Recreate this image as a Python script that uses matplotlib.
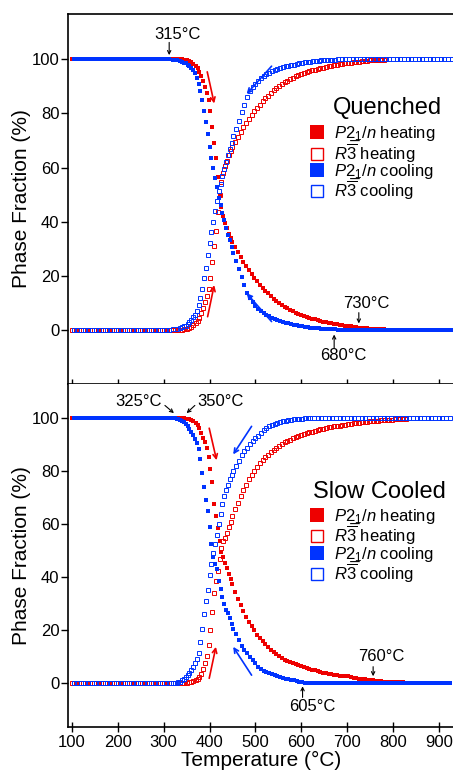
import matplotlib.pyplot as plt
from matplotlib.lines import Line2D

plt.rcParams['font.family'] = ['Liberation Sans', 'DejaVu Sans']
plt.rcParams['mathtext.fontset'] = 'custom'
plt.rcParams['mathtext.rm'] = 'Liberation Sans'
plt.rcParams['mathtext.it'] = 'Liberation Sans:italic'
plt.rcParams['mathtext.bf'] = 'Liberation Sans:bold'
plt.rcParams['mathtext.fallback'] = 'stixsans'

RED = '#ee0000'
BLUE = '#0033ff'

# ---------------- Quenched (top panel) ----------------
q_heat_T = [100, 108, 116, 124, 132, 140, 148, 156, 164, 172, 180, 188, 196, 204, 212, 220,
            228, 236, 244, 252, 260, 268, 276, 284, 292, 300, 308, 316, 324, 332, 340,
            345, 350, 355, 360, 365, 370, 374, 378, 382, 386, 390, 394, 398, 402, 406, 410,
            414, 418, 422, 426, 430, 434, 438, 442, 446, 450,
            456, 462, 468, 474, 480, 486, 492, 498, 504, 510, 516, 522, 528, 534, 540, 546,
            552, 558, 564, 570, 576, 582, 588, 594, 600, 606, 612, 618, 624, 630, 636, 642,
            648, 654, 660, 666, 672, 678, 684, 690, 696, 702, 708, 714, 720, 726, 732, 738,
            744, 750, 756, 762, 768, 774, 780]
q_heat_p21n = [100, 100, 100, 100, 100, 100, 100, 100, 100, 100, 100, 100, 100, 100, 100, 100,
               100, 100, 100, 100, 100, 100, 100, 100, 100, 100, 100, 100, 100, 100, 100,
               99.8, 99.6, 99.3, 99.0, 98.4, 97.6, 96.7, 95.5, 94.0, 92.0, 89.8, 87.5, 84.8, 81.0,
               75.0, 69.0, 63.5, 56.5, 50.0, 45.5, 42.0, 39.5, 37.5, 35.5, 34.0, 32.5,
               30.5, 28.6, 26.8, 25.0, 23.4, 22.0, 20.6, 19.2, 17.9, 16.7,
               15.5, 14.4, 13.4, 12.4, 11.5, 10.7, 9.9, 9.2, 8.5, 7.9,
               7.3, 6.8, 6.3, 5.9, 5.5, 5.1, 4.7, 4.4, 4.1, 3.8,
               3.5, 3.3, 3.0, 2.8, 2.6, 2.4, 2.2, 2.0, 1.8, 1.6,
               1.5, 1.3, 1.2, 1.0, 0.9, 0.8, 0.7, 0.6, 0.5, 0.4,
               0.3, 0.3, 0.2, 0.1, 0.1]
q_heat_r3 = [0, 0, 0, 0, 0, 0, 0, 0, 0, 0, 0, 0, 0, 0, 0, 0,
             0, 0, 0, 0, 0, 0, 0, 0, 0, 0, 0, 0, 0, 0, 0,
             0.2, 0.4, 0.7, 1.0, 1.6, 2.4, 3.3, 4.5, 6.0, 8.0, 10.2, 12.5, 15.2, 19.0,
             25.0, 31.0, 36.5, 43.5, 50.0, 54.5, 58.0, 60.5, 62.5, 64.5, 66.0, 67.5,
             69.5, 71.4, 73.2, 75.0, 76.6, 78.0, 79.4, 80.8, 82.1, 83.3,
             84.5, 85.6, 86.6, 87.6, 88.5, 89.3, 90.1, 90.8, 91.5, 92.1,
             92.7, 93.2, 93.7, 94.1, 94.5, 94.9, 95.3, 95.6, 95.9, 96.2,
             96.5, 96.7, 97.0, 97.2, 97.4, 97.6, 97.8, 98.0, 98.2, 98.4,
             98.5, 98.7, 98.8, 99.0, 99.1, 99.2, 99.3, 99.4, 99.5, 99.6,
             99.7, 99.7, 99.8, 99.9, 99.9]

q_cool_T = [104, 112, 120, 128, 136, 144, 152, 160, 168, 176, 184, 192, 200, 208, 216, 224,
            232, 240, 248, 256, 264, 272, 280, 288, 296, 304, 312, 320, 328, 336,
            340, 344, 348, 352, 356, 360, 364, 368, 372, 376, 380, 384, 388, 392, 396, 400,
            404, 408, 412, 416, 420, 424, 428, 432, 436, 440, 444, 448, 452,
            458, 464, 470, 476, 482, 488, 494, 500, 506, 512, 518, 524, 530, 536, 542, 548,
            554, 560, 566, 572, 578, 584, 590, 596, 602, 608, 614, 620, 626, 632, 638, 644,
            650, 656, 662, 668, 674, 680,
            688, 696, 704, 712, 720, 728, 736, 744, 752, 760, 768, 776, 784, 792, 800, 808,
            816, 824, 832, 840, 848, 856, 864, 872, 880, 888, 896, 904, 912, 920, 928]
q_cool_p21n = [100, 100, 100, 100, 100, 100, 100, 100, 100, 100, 100, 100, 100, 100, 100, 100,
               100, 100, 100, 100, 100, 100, 100, 100, 100, 100, 100, 99.9, 99.7, 99.3,
               99.0, 98.8, 98.5, 98.0, 97.5, 96.8, 96.0, 94.8, 93.2, 91.0, 88.3, 85.0, 81.0,
               77.0, 72.3, 67.5, 63.5, 59.7, 56.0, 52.7, 48.8, 46.0, 43.0, 40.5, 37.5, 35.2,
               33.0, 30.6, 28.3,
               25.5, 22.5, 19.4, 16.6, 13.6, 11.6, 10.1, 8.9, 7.8, 6.9,
               6.1, 5.4, 4.9, 4.4, 4.0, 3.6, 3.2, 2.9, 2.6, 2.3,
               2.1, 1.9, 1.7, 1.5, 1.3, 1.1, 1.0, 0.8, 0.7, 0.6,
               0.5, 0.4, 0.3, 0.3, 0.2, 0.1, 0.1, 0.0,
               0, 0, 0, 0, 0, 0, 0, 0, 0, 0, 0, 0, 0, 0, 0, 0,
               0, 0, 0, 0, 0, 0, 0, 0, 0, 0, 0, 0, 0, 0, 0]
q_cool_r3 = [0, 0, 0, 0, 0, 0, 0, 0, 0, 0, 0, 0, 0, 0, 0, 0,
             0, 0, 0, 0, 0, 0, 0, 0, 0, 0, 0, 0.1, 0.3, 0.7,
             1.0, 1.2, 1.5, 2.2, 2.8, 3.6, 4.6, 5.6, 7.0, 9.2, 11.9, 15.2, 19.2,
             23.0, 27.5, 32.0, 36.0, 40.0, 43.8, 47.5, 51.2, 54.0, 57.0, 59.5, 62.2, 64.6,
             66.9, 69.2, 71.6,
             74.3, 77.2, 80.4, 83.2, 86.0, 88.2, 89.8, 91.0, 92.1, 93.0,
             93.8, 94.5, 95.1, 95.6, 96.0, 96.4, 96.8, 97.1, 97.4, 97.7,
             97.9, 98.1, 98.3, 98.5, 98.7, 98.9, 99.0, 99.2, 99.3, 99.4,
             99.5, 99.6, 99.7, 99.7, 99.8, 99.9, 99.9, 100,
             100, 100, 100, 100, 100, 100, 100, 100, 100, 100, 100, 100, 100, 100, 100, 100,
             100, 100, 100, 100, 100, 100, 100, 100, 100, 100, 100, 100, 100, 100, 100]

# ---------------- Slow cooled (bottom panel) ----------------
s_heat_T = [100, 108, 116, 124, 132, 140, 148, 156, 164, 172, 180, 188, 196, 204, 212, 220,
            228, 236, 244, 252, 260, 268, 276, 284, 292, 300, 308, 316, 324, 332, 340,
            345, 350, 355, 360, 365, 370, 374, 378, 382, 386, 390, 394, 398, 402, 406, 410,
            414, 418, 422, 426, 430, 434, 438, 442, 446, 450,
            456, 462, 468, 474, 480, 486, 492, 498, 504, 510, 516, 522, 528, 534, 540, 546,
            552, 558, 564, 570, 576, 582, 588, 594, 600, 606, 612, 618, 624, 630, 636, 642,
            648, 654, 660, 666, 672, 678, 684, 690, 696, 702, 708, 714, 720, 726, 732, 738,
            744, 750, 756, 762, 768, 774, 780, 786, 792, 798, 804, 810, 816, 822, 828]
s_heat_p21n = [100, 100, 100, 100, 100, 100, 100, 100, 100, 100, 100, 100, 100, 100, 100, 100,
               100, 100, 100, 100, 100, 100, 100, 100, 100, 100, 100, 100, 100, 100, 100,
               100, 99.8, 99.6, 99.3, 98.9, 98.3, 97.6, 96.5, 94.6, 92.6, 91.0, 89.0, 85.5,
               81.0, 76.0, 67.5, 63.0, 58.5, 53.5, 49.5, 47.6, 45.2, 43.5, 41.2, 39.4, 37.5,
               34.6, 31.8, 29.4, 27.1, 25.1, 23.2, 21.5, 19.9, 18.3, 17.0,
               15.8, 14.6, 13.6, 12.6, 11.7, 11.0, 10.2, 9.5, 8.9, 8.4,
               7.9, 7.5, 7.1, 6.8, 6.4, 6.0, 5.6, 5.3, 5.0, 4.8,
               4.5, 4.2, 4.0, 3.7, 3.5, 3.3, 3.1, 3.0, 2.8, 2.7,
               2.6, 2.5, 2.3, 2.1, 1.9, 1.7, 1.6, 1.4, 1.3, 1.1,
               1.0, 0.9, 0.8, 0.7, 0.6, 0.5, 0.5, 0.4, 0.4, 0.3,
               0.3, 0.3, 0.2]
s_heat_r3 = [0, 0, 0, 0, 0, 0, 0, 0, 0, 0, 0, 0, 0, 0, 0, 0,
             0, 0, 0, 0, 0, 0, 0, 0, 0, 0, 0, 0, 0, 0, 0,
             0.1, 0.2, 0.4, 0.6, 0.8, 1.2, 1.7, 2.4, 3.4, 5.4, 7.6, 10.2, 14.5,
             20.0, 27.0, 34.0, 38.5, 42.5, 47.0, 51.0, 53.5, 55.0, 56.8, 59.0, 60.8, 63.0,
             65.6, 68.2, 70.6, 72.9, 75.0, 77.0, 78.7, 80.3, 81.8, 83.1,
             84.3, 85.3, 86.3, 87.2, 88.1, 88.9, 89.7, 90.3, 90.9, 91.5,
             92.0, 92.5, 92.9, 93.3, 93.7, 94.0, 94.4, 94.7, 95.0, 95.3,
             95.6, 95.9, 96.1, 96.4, 96.6, 96.8, 97.0, 97.2, 97.3, 97.5,
             97.6, 97.8, 97.9, 98.1, 98.3, 98.4, 98.5, 98.7, 98.8, 98.9,
             99.0, 99.1, 99.2, 99.3, 99.4, 99.4, 99.5, 99.5, 99.6, 99.6,
             99.7, 99.7, 99.8]

s_cool_T = [104, 112, 120, 128, 136, 144, 152, 160, 168, 176, 184, 192, 200, 208, 216, 224,
            232, 240, 248, 256, 264, 272, 280, 288, 296, 304, 312, 320,
            324, 328, 332, 336, 340, 344, 348, 352, 356, 360, 364, 368, 372, 376, 380, 384,
            388, 392, 396, 400, 404, 408, 412, 416, 420, 424, 428, 432, 436, 440, 444, 448, 452,
            458, 464, 470, 476, 482, 488, 494, 500, 506, 512, 518, 524, 530, 536, 542, 548,
            554, 560, 566, 572, 578, 584, 590, 596, 602, 608, 614, 620,
            628, 636, 644, 652, 660, 668, 676, 684, 692, 700, 708, 716, 724, 732, 740, 748,
            756, 764, 772, 780, 788, 796, 804, 812, 820, 828, 836, 844, 852, 860, 868, 876,
            884, 892, 900, 908, 916, 924]
s_cool_p21n = [100, 100, 100, 100, 100, 100, 100, 100, 100, 100, 100, 100, 100, 100, 100, 100,
               100, 100, 100, 100, 100, 100, 100, 100, 100, 100, 100, 100,
               100, 99.9, 99.7, 99.4, 99.0, 98.5, 97.8, 97.0, 96.0, 95.0, 93.8, 92.3, 90.8,
               88.5, 84.5, 79.5, 74.0, 69.0, 65.0, 59.0, 52.5, 47.5, 45.0, 43.0, 38.5, 35.5,
               32.5, 29.8, 27.8, 26.3, 24.5, 22.5, 20.5,
               18.6, 16.2, 14.0, 12.5, 11.2, 9.8, 8.6, 7.6, 6.0, 5.2,
               4.6, 4.1, 3.7, 3.3, 2.9, 2.6, 2.3, 2.0, 1.7, 1.5,
               1.2, 1.0, 0.8, 0.6, 0.4, 0.2, 0.0, 0.0,
               0, 0, 0, 0, 0, 0, 0, 0, 0, 0, 0, 0, 0, 0, 0, 0,
               0, 0, 0, 0, 0, 0, 0, 0, 0, 0, 0, 0, 0, 0, 0, 0,
               0, 0, 0, 0, 0, 0]
s_cool_r3 = [0, 0, 0, 0, 0, 0, 0, 0, 0, 0, 0, 0, 0, 0, 0, 0,
             0, 0, 0, 0, 0, 0, 0, 0, 0, 0, 0, 0,
             0.0, 0.1, 0.3, 0.6, 1.0, 1.5, 2.2, 3.0, 4.0, 5.0, 6.2, 7.7, 9.2,
             11.5, 15.5, 20.5, 26.0, 31.0, 35.0, 41.0, 45.0, 49.0, 52.5, 56.0, 60.0, 64.0,
             67.5, 70.5, 73.0, 75.0, 77.0, 78.5, 80.0,
             82.0, 84.0, 86.0, 87.5, 88.8, 90.2, 91.4, 92.5, 93.5, 94.5,
             95.5, 96.4, 97.0, 97.5, 98.0, 98.4, 98.7, 99.0, 99.2, 99.4,
             99.5, 99.6, 99.7, 99.8, 99.9, 100, 100, 100,
             100, 100, 100, 100, 100, 100, 100, 100, 100, 100, 100, 100, 100, 100, 100, 100,
             100, 100, 100, 100, 100, 100, 100, 100, 100, 100, 100, 100, 100, 100, 100, 100,
             100, 100, 100, 100, 100, 100]

# annotations: (text, x, y) and arrows (tail, head) in data units
q_notes = [('315\u00b0C', 331, 109.3), ('730\u00b0C', 742, 9.8), ('680\u00b0C', 691, -9.7)]
q_black = [((312, 106.3), (312, 101.6)), ((725.6, 6.3), (725.6, 2.3)), ((671.8, -6.8), (671.8, -1.8))]
q_red = [((395, 95.4), (410.2, 83.7)), ((395.8, 4.8), (410.2, 16.5))]
q_blue = [((535.3, 97.5), (480.8, 87.2)), ((535.3, 3.0), (480.8, 13.5))]

s_notes = [('325\u00b0C', 245, 106.2), ('350\u00b0C', 423, 106.2),
           ('760\u00b0C', 775, 10.2), ('605\u00b0C', 625, -8.9)]
s_black = [((302.7, 104.9), (322.3, 102.0)), ((368, 104.9), (350, 102.0)),
           ((756.8, 6.2), (756.8, 2.6)), ((602.9, -5.4), (602.9, -1.2))]
s_red = [((399.3, 96.3), (415.4, 84.2)), ((399.3, 1.8), (413.9, 13.7))]
s_blue = [((491.7, 97.0), (451.6, 86.4)), ((491.7, 3.0), (451.6, 13.7))]

# P2_1/n with the 2 underlined (combining low line), R-3 with overline
P21N = '$\\mathit{P}\\mathrm{2\u0332}_{\\mathrm{1}}/\\mathit{n}$'
R3 = r'$\mathit{R}\overline{\mathrm{3}}$'
labels = [P21N + ' heating', R3 + ' heating', P21N + ' cooling', R3 + ' cooling']


def panel(ax, hT, hp, hr, cT, cp, cr, notes, black, red, blue, ylim):
    ax.plot(hT, hp, 's', ms=3.0, mfc=RED, mec=RED, mew=0, ls='none')
    ax.plot(hT, hr, 's', ms=3.0, mfc='none', mec=RED, mew=0.7, ls='none')
    ax.plot(cT, cp, 's', ms=3.0, mfc=BLUE, mec=BLUE, mew=0, ls='none')
    ax.plot(cT, cr, 's', ms=3.0, mfc='none', mec=BLUE, mew=0.7, ls='none')
    for txt, x, y in notes:
        ax.text(x, y, txt, fontsize=12, ha='center', va='center')
    for (t, h) in black:
        ax.annotate('', xy=h, xytext=t, arrowprops=dict(arrowstyle='->', color='k', lw=0.8,
                                                         shrinkA=0, shrinkB=0, mutation_scale=6))
    for (t, h) in red:
        ax.annotate('', xy=h, xytext=t, arrowprops=dict(arrowstyle='->', color=RED, lw=1.2,
                                                         shrinkA=0, shrinkB=0, mutation_scale=8))
    for (t, h) in blue:
        ax.annotate('', xy=h, xytext=t, arrowprops=dict(arrowstyle='->', color=BLUE, lw=1.2,
                                                         shrinkA=0, shrinkB=0, mutation_scale=8))
    ax.set_xlim(92, 931)
    ax.set_ylim(*ylim)
    ax.set_xticks(range(100, 1000, 100))
    ax.set_yticks(range(0, 101, 20))
    ax.spines['right'].set_visible(False)
    for s in ['left', 'top', 'bottom']:
        ax.spines[s].set_linewidth(1.2)
    ax.tick_params(axis='x', direction='inout', length=7, width=1.0, labelsize=12, pad=2)
    ax.tick_params(axis='y', direction='out', length=5, width=1.0, labelsize=12, pad=1.5)
    ax.set_ylabel('Phase Fraction (%)', fontsize=15)
    ax.yaxis.set_label_coords(-0.098, 0.5)


def legend(ax, title, tx, ty, lx, ly):
    ax.text(tx, ty, title, fontsize=17, ha='left', va='center', transform=ax.transAxes)
    handles = [Line2D([], [], marker='s', ls='none', ms=9.5, mfc=RED, mec=RED, mew=0),
               Line2D([], [], marker='s', ls='none', ms=8.5, mfc='white', mec=RED, mew=1.0),
               Line2D([], [], marker='s', ls='none', ms=9.5, mfc=BLUE, mec=BLUE, mew=0),
               Line2D([], [], marker='s', ls='none', ms=8.5, mfc='white', mec=BLUE, mew=1.0)]
    ax.legend(handles, labels, loc='upper left', bbox_to_anchor=(lx, ly), frameon=False,
              fontsize=12, handlelength=1.0, handletextpad=0.5, labelspacing=-0.12,
              borderpad=0, borderaxespad=0)


fig = plt.figure(figsize=(4.53, 7.70), dpi=100)
ax1 = fig.add_axes([0.1508, 0.5013, 0.8492, 0.4805])
ax2 = fig.add_axes([0.1508, 0.0558, 0.8492, 0.4455])

panel(ax1, q_heat_T, q_heat_p21n, q_heat_r3, q_cool_T, q_cool_p21n, q_cool_r3,
      q_notes, q_black, q_red, q_blue, (-20.1, 116.8))
panel(ax2, s_heat_T, s_heat_p21n, s_heat_r3, s_cool_T, s_cool_p21n, s_cool_r3,
      s_notes, s_black, s_red, s_blue, (-16.6, 113.0))

ax1.tick_params(axis='x', labelbottom=False)
ax2.spines['top'].set_visible(False)
ax2.set_xlabel('Temperature (\u00b0C)', fontsize=15)
ax2.xaxis.set_label_coords(0.5, -0.071)

legend(ax1, 'Quenched', 0.688, 0.746, 0.625, 0.6996)
legend(ax2, 'Slow Cooled', 0.635, 0.686, 0.625, 0.639)

fig.savefig('out.png', dpi=100)
